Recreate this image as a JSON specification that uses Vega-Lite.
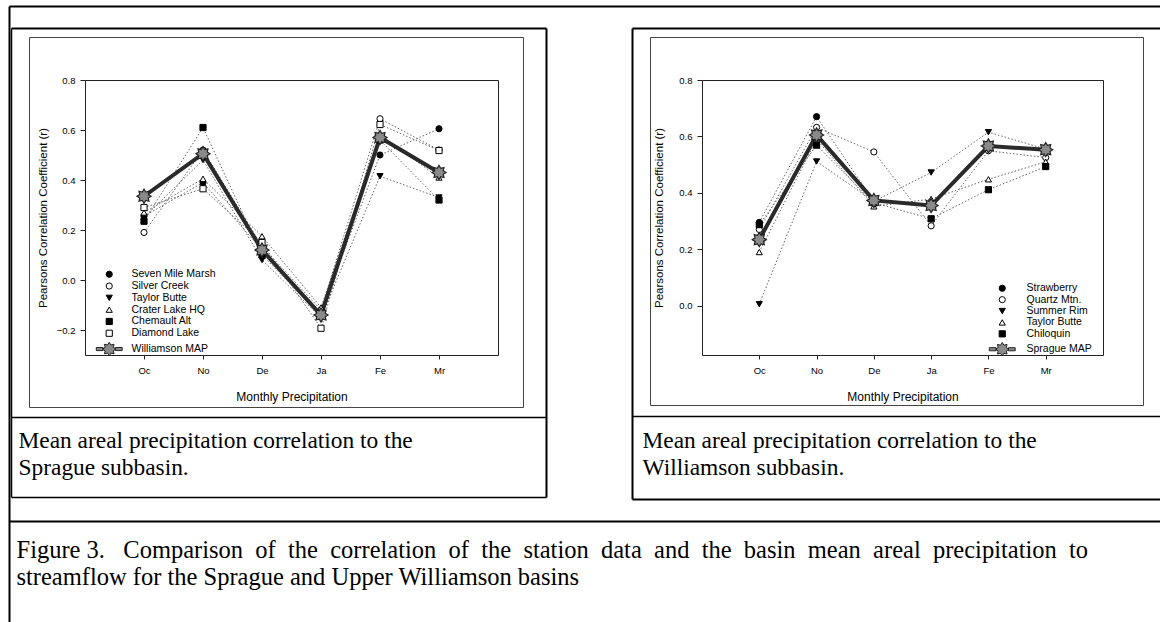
{
  "$schema": "https://vega.github.io/schema/vega-lite/v6.json",
  "width": 1160,
  "height": 622,
  "autosize": {"type": "none"},
  "padding": 0,
  "background": "white",
  "config": {"view": {"stroke": null}, "axis": {"grid": false}},
  "resolve": {
    "scale": {"x": "independent", "y": "independent", "shape": "independent", "fill": "independent", "stroke": "independent"},
    "axis": {"x": "independent", "y": "independent"},
    "legend": {"shape": "independent", "fill": "independent", "stroke": "independent"}
  },
  "layer": [
    {
      "data": {"values": [
        {"station": "Seven Mile Marsh", "month": "Oc", "r": 0.255},
        {"station": "Seven Mile Marsh", "month": "No", "r": 0.39},
        {"station": "Seven Mile Marsh", "month": "De", "r": 0.12},
        {"station": "Seven Mile Marsh", "month": "Ja", "r": -0.13},
        {"station": "Seven Mile Marsh", "month": "Fe", "r": 0.50},
        {"station": "Seven Mile Marsh", "month": "Mr", "r": 0.605},
        {"station": "Silver Creek", "month": "Oc", "r": 0.19},
        {"station": "Silver Creek", "month": "No", "r": 0.52},
        {"station": "Silver Creek", "month": "De", "r": 0.135},
        {"station": "Silver Creek", "month": "Ja", "r": -0.12},
        {"station": "Silver Creek", "month": "Fe", "r": 0.645},
        {"station": "Silver Creek", "month": "Mr", "r": 0.52},
        {"station": "Taylor Butte", "month": "Oc", "r": 0.25},
        {"station": "Taylor Butte", "month": "No", "r": 0.48},
        {"station": "Taylor Butte", "month": "De", "r": 0.08},
        {"station": "Taylor Butte", "month": "Ja", "r": -0.15},
        {"station": "Taylor Butte", "month": "Fe", "r": 0.415},
        {"station": "Taylor Butte", "month": "Mr", "r": 0.33},
        {"station": "Crater Lake HQ", "month": "Oc", "r": 0.27},
        {"station": "Crater Lake HQ", "month": "No", "r": 0.405},
        {"station": "Crater Lake HQ", "month": "De", "r": 0.175},
        {"station": "Crater Lake HQ", "month": "Ja", "r": -0.11},
        {"station": "Crater Lake HQ", "month": "Fe", "r": 0.58},
        {"station": "Crater Lake HQ", "month": "Mr", "r": 0.41},
        {"station": "Chemault Alt", "month": "Oc", "r": 0.235},
        {"station": "Chemault Alt", "month": "No", "r": 0.61},
        {"station": "Chemault Alt", "month": "De", "r": 0.10},
        {"station": "Chemault Alt", "month": "Ja", "r": -0.14},
        {"station": "Chemault Alt", "month": "Fe", "r": 0.56},
        {"station": "Chemault Alt", "month": "Mr", "r": 0.32},
        {"station": "Diamond Lake", "month": "Oc", "r": 0.29},
        {"station": "Diamond Lake", "month": "No", "r": 0.365},
        {"station": "Diamond Lake", "month": "De", "r": 0.15},
        {"station": "Diamond Lake", "month": "Ja", "r": -0.193},
        {"station": "Diamond Lake", "month": "Fe", "r": 0.622},
        {"station": "Diamond Lake", "month": "Mr", "r": 0.518},
        {"station": "Williamson MAP", "month": "Oc", "r": 0.335},
        {"station": "Williamson MAP", "month": "No", "r": 0.505},
        {"station": "Williamson MAP", "month": "De", "r": 0.12},
        {"station": "Williamson MAP", "month": "Ja", "r": -0.14},
        {"station": "Williamson MAP", "month": "Fe", "r": 0.57},
        {"station": "Williamson MAP", "month": "Mr", "r": 0.43}
      ]},
      "encoding": {
        "x": {"field": "month", "type": "ordinal",
          "scale": {"type": "point", "domain": ["Oc", "No", "De", "Ja", "Fe", "Mr"], "range": [85, 498], "padding": 1},
          "axis": {"orient": "bottom", "offset": -267, "labelAngle": 0, "title": "Monthly Precipitation", "domainColor": "#222", "tickColor": "#222", "tickSize": 4, "labelPadding": 6, "labelFont": "Liberation Sans", "labelFontSize": 9.5, "labelColor": "black", "titleFont": "Liberation Sans", "titleFontSize": 12, "titleFontWeight": "normal", "titleColor": "black", "titleY": 41, "titleBaseline": "middle"}},
        "y": {"field": "r", "type": "quantitative",
          "scale": {"domain": [-0.3, 0.8], "range": [355, 80], "nice": false, "zero": false},
          "axis": {"orient": "left", "offset": -85, "values": [-0.2, 0, 0.2, 0.4, 0.6, 0.8], "format": ".1f", "title": "Pearsons Correlation Coefficient (r)", "domainColor": "#222", "tickColor": "#222", "tickSize": 5, "labelPadding": 5, "labelFont": "Liberation Sans", "labelFontSize": 9.5, "labelColor": "black", "titleFont": "Liberation Sans", "titleFontSize": 11.5, "titleFontWeight": "normal", "titleColor": "black", "titleX": -42, "titleY": 217.5, "titleBaseline": "middle", "titleAngle": 270}}
      },
      "layer": [
        {"transform": [{"filter": "datum.station != 'Williamson MAP'"}],
         "mark": {"type": "line", "color": "#666", "strokeWidth": 1, "strokeDash": [1.5, 2]},
         "encoding": {"detail": {"field": "station"}, "order": {"value": null}}},
        {"transform": [{"filter": "datum.station == 'Williamson MAP'"}],
         "mark": {"type": "line", "color": "#2a2a2a", "strokeWidth": 4},
         "encoding": {"order": {"value": null}}},
        {"transform": [{"filter": "datum.station != 'Williamson MAP'"}],
         "mark": {"type": "point", "size": 38, "opacity": 1, "strokeWidth": 1},
         "encoding": {
           "shape": {"field": "station", "type": "nominal",
             "scale": {"domain": ["Seven Mile Marsh", "Silver Creek", "Taylor Butte", "Crater Lake HQ", "Chemault Alt", "Diamond Lake", "Williamson MAP"],
                       "range": ["circle", "circle", "triangle-down", "triangle-up", "square", "square", "M2.2,0L1.32,0.548L1.555,1.555L0.548,1.32L0,2.2L-0.548,1.32L-1.555,1.555L-1.32,0.548L-2.2,0L-1.32,-0.548L-1.555,-1.555L-0.548,-1.32L0,-2.2L0.548,-1.32L1.555,-1.555L1.32,-0.548ZM-4.2,-0.5H-2V0.5H-4.2ZM2,-0.5H4.2V0.5H2Z"]},
             "legend": {"orient": "none", "legendX": 104, "legendY": 269, "title": null, "labelFont": "Liberation Sans", "labelFontSize": 10.5, "labelColor": "black", "symbolSize": 38, "rowPadding": 0.8, "labelOffset": 17, "symbolStrokeWidth": 1}},
           "fill": {"field": "station", "type": "nominal",
             "scale": {"domain": ["Seven Mile Marsh", "Silver Creek", "Taylor Butte", "Crater Lake HQ", "Chemault Alt", "Diamond Lake", "Williamson MAP"],
                       "range": ["black", "white", "black", "white", "black", "white", "#8a8a8a"]},
             "legend": {"orient": "none", "legendX": 104, "legendY": 269, "title": null, "labelFont": "Liberation Sans", "labelFontSize": 10.5, "labelColor": "black", "symbolSize": 38, "rowPadding": 0.8, "labelOffset": 17, "symbolStrokeWidth": 1}},
           "stroke": {"field": "station", "type": "nominal",
             "scale": {"domain": ["Seven Mile Marsh", "Silver Creek", "Taylor Butte", "Crater Lake HQ", "Chemault Alt", "Diamond Lake", "Williamson MAP"],
                       "range": ["black", "black", "black", "black", "black", "black", "#222"]},
             "legend": {"orient": "none", "legendX": 104, "legendY": 269, "title": null, "labelFont": "Liberation Sans", "labelFontSize": 10.5, "labelColor": "black", "symbolSize": 38, "rowPadding": 0.8, "labelOffset": 17, "symbolStrokeWidth": 1}}
         }},
        {"transform": [{"filter": "datum.station == 'Williamson MAP'"}],
         "mark": {"type": "point", "shape": "M1,0L0.6,0.249L0.707,0.707L0.249,0.6L0,1L-0.249,0.6L-0.707,0.707L-0.6,0.249L-1,0L-0.6,-0.249L-0.707,-0.707L-0.249,-0.6L0,-1L0.249,-0.6L0.707,-0.707L0.6,-0.249Z", "size": 200, "opacity": 1, "fill": "#8a8a8a", "stroke": "#222", "strokeWidth": 1.2}}
      ]
    },
    {
      "data": {"values": [
        {"station": "Strawberry", "month": "Oc", "r": 0.295},
        {"station": "Strawberry", "month": "No", "r": 0.67},
        {"station": "Strawberry", "month": "De", "r": 0.37},
        {"station": "Strawberry", "month": "Ja", "r": 0.35},
        {"station": "Strawberry", "month": "Fe", "r": 0.565},
        {"station": "Strawberry", "month": "Mr", "r": 0.555},
        {"station": "Quartz Mtn.", "month": "Oc", "r": 0.27},
        {"station": "Quartz Mtn.", "month": "No", "r": 0.632},
        {"station": "Quartz Mtn.", "month": "De", "r": 0.545},
        {"station": "Quartz Mtn.", "month": "Ja", "r": 0.283},
        {"station": "Quartz Mtn.", "month": "Fe", "r": 0.549},
        {"station": "Quartz Mtn.", "month": "Mr", "r": 0.525},
        {"station": "Summer Rim", "month": "Oc", "r": 0.005},
        {"station": "Summer Rim", "month": "No", "r": 0.511},
        {"station": "Summer Rim", "month": "De", "r": 0.37},
        {"station": "Summer Rim", "month": "Ja", "r": 0.472},
        {"station": "Summer Rim", "month": "Fe", "r": 0.615},
        {"station": "Summer Rim", "month": "Mr", "r": 0.555},
        {"station": "Taylor Butte", "month": "Oc", "r": 0.19},
        {"station": "Taylor Butte", "month": "No", "r": 0.59},
        {"station": "Taylor Butte", "month": "De", "r": 0.352},
        {"station": "Taylor Butte", "month": "Ja", "r": 0.378},
        {"station": "Taylor Butte", "month": "Fe", "r": 0.448},
        {"station": "Taylor Butte", "month": "Mr", "r": 0.51},
        {"station": "Chiloquin", "month": "Oc", "r": 0.287},
        {"station": "Chiloquin", "month": "No", "r": 0.569},
        {"station": "Chiloquin", "month": "De", "r": 0.365},
        {"station": "Chiloquin", "month": "Ja", "r": 0.308},
        {"station": "Chiloquin", "month": "Fe", "r": 0.411},
        {"station": "Chiloquin", "month": "Mr", "r": 0.493},
        {"station": "Sprague MAP", "month": "Oc", "r": 0.234},
        {"station": "Sprague MAP", "month": "No", "r": 0.605},
        {"station": "Sprague MAP", "month": "De", "r": 0.373},
        {"station": "Sprague MAP", "month": "Ja", "r": 0.355},
        {"station": "Sprague MAP", "month": "Fe", "r": 0.566},
        {"station": "Sprague MAP", "month": "Mr", "r": 0.553}
      ]},
      "encoding": {
        "x": {"field": "month", "type": "ordinal",
          "scale": {"type": "point", "domain": ["Oc", "No", "De", "Ja", "Fe", "Mr"], "range": [702, 1103], "padding": 1},
          "axis": {"orient": "bottom", "offset": -267, "labelAngle": 0, "title": "Monthly Precipitation", "domainColor": "#222", "tickColor": "#222", "tickSize": 4, "labelPadding": 6, "labelFont": "Liberation Sans", "labelFontSize": 9.5, "labelColor": "black", "titleFont": "Liberation Sans", "titleFontSize": 12, "titleFontWeight": "normal", "titleColor": "black", "titleY": 41, "titleBaseline": "middle"}},
        "y": {"field": "r", "type": "quantitative",
          "scale": {"domain": [-0.175, 0.8], "range": [355, 80], "nice": false, "zero": false},
          "axis": {"orient": "left", "offset": -702, "values": [0, 0.2, 0.4, 0.6, 0.8], "format": ".1f", "title": "Pearsons Correlation Coefficient (r)", "domainColor": "#222", "tickColor": "#222", "tickSize": 5, "labelPadding": 5, "labelFont": "Liberation Sans", "labelFontSize": 9.5, "labelColor": "black", "titleFont": "Liberation Sans", "titleFontSize": 11.5, "titleFontWeight": "normal", "titleColor": "black", "titleX": -43, "titleY": 217.5, "titleBaseline": "middle", "titleAngle": 270}}
      },
      "layer": [
        {"transform": [{"filter": "datum.station != 'Sprague MAP'"}],
         "mark": {"type": "line", "color": "#666", "strokeWidth": 1, "strokeDash": [1.5, 2]},
         "encoding": {"detail": {"field": "station"}, "order": {"value": null}}},
        {"transform": [{"filter": "datum.station == 'Sprague MAP'"}],
         "mark": {"type": "line", "color": "#2a2a2a", "strokeWidth": 4},
         "encoding": {"order": {"value": null}}},
        {"transform": [{"filter": "datum.station != 'Sprague MAP'"}],
         "mark": {"type": "point", "size": 38, "opacity": 1, "strokeWidth": 1},
         "encoding": {
           "shape": {"field": "station", "type": "nominal",
             "scale": {"domain": ["Strawberry", "Quartz Mtn.", "Summer Rim", "Taylor Butte", "Chiloquin", "Sprague MAP"],
                       "range": ["circle", "circle", "triangle-down", "triangle-up", "square", "M2.2,0L1.32,0.548L1.555,1.555L0.548,1.32L0,2.2L-0.548,1.32L-1.555,1.555L-1.32,0.548L-2.2,0L-1.32,-0.548L-1.555,-1.555L-0.548,-1.32L0,-2.2L0.548,-1.32L1.555,-1.555L1.32,-0.548ZM-4.2,-0.5H-2V0.5H-4.2ZM2,-0.5H4.2V0.5H2Z"]},
             "legend": {"orient": "none", "legendX": 997, "legendY": 283, "title": null, "labelFont": "Liberation Sans", "labelFontSize": 10.5, "labelColor": "black", "symbolSize": 38, "rowPadding": 0.4, "labelOffset": 19, "symbolStrokeWidth": 1}},
           "fill": {"field": "station", "type": "nominal",
             "scale": {"domain": ["Strawberry", "Quartz Mtn.", "Summer Rim", "Taylor Butte", "Chiloquin", "Sprague MAP"],
                       "range": ["black", "white", "black", "white", "black", "#8a8a8a"]},
             "legend": {"orient": "none", "legendX": 997, "legendY": 283, "title": null, "labelFont": "Liberation Sans", "labelFontSize": 10.5, "labelColor": "black", "symbolSize": 38, "rowPadding": 0.4, "labelOffset": 19, "symbolStrokeWidth": 1}},
           "stroke": {"field": "station", "type": "nominal",
             "scale": {"domain": ["Strawberry", "Quartz Mtn.", "Summer Rim", "Taylor Butte", "Chiloquin", "Sprague MAP"],
                       "range": ["black", "black", "black", "black", "black", "#222"]},
             "legend": {"orient": "none", "legendX": 997, "legendY": 283, "title": null, "labelFont": "Liberation Sans", "labelFontSize": 10.5, "labelColor": "black", "symbolSize": 38, "rowPadding": 0.4, "labelOffset": 19, "symbolStrokeWidth": 1}}
         }},
        {"transform": [{"filter": "datum.station == 'Sprague MAP'"}],
         "mark": {"type": "point", "shape": "M1,0L0.6,0.249L0.707,0.707L0.249,0.6L0,1L-0.249,0.6L-0.707,0.707L-0.6,0.249L-1,0L-0.6,-0.249L-0.707,-0.707L-0.249,-0.6L0,-1L0.249,-0.6L0.707,-0.707L0.6,-0.249Z", "size": 200, "opacity": 1, "fill": "#8a8a8a", "stroke": "#222", "strokeWidth": 1.2}}
      ]
    },
    {"data": {"values": []}, "mark": {"type": "point", "opacity": 0}, "encoding": {
      "x": {"field": "a", "type": "quantitative", "scale": {"domain": [0, 1], "range": [9, 1160]}, "axis": {"orient": "top", "offset": -6, "domainColor": "black", "domainWidth": 2, "ticks": false, "labels": false, "grid": false, "title": null}},
      "y": {"field": "b", "type": "quantitative", "scale": {"domain": [0, 1], "range": [622, 6]}, "axis": {"orient": "left", "offset": -9, "domainColor": "black", "domainWidth": 2, "ticks": false, "labels": false, "grid": false, "title": null}}}},
    {"data": {"values": []}, "mark": {"type": "point", "opacity": 0}, "encoding": {
      "x": {"field": "a", "type": "quantitative", "scale": {"domain": [0, 1], "range": [11, 546]}, "axis": {"orient": "top", "offset": -28, "domainColor": "black", "domainWidth": 2, "ticks": false, "labels": false, "grid": false, "title": null}},
      "y": {"field": "b", "type": "quantitative", "scale": {"domain": [0, 1], "range": [497, 28]}, "axis": {"orient": "left", "offset": -11, "domainColor": "black", "domainWidth": 1.5, "ticks": false, "labels": false, "grid": false, "title": null}}}},
    {"data": {"values": []}, "mark": {"type": "point", "opacity": 0}, "encoding": {
      "x": {"field": "a", "type": "quantitative", "scale": {"domain": [0, 1], "range": [11, 546]}, "axis": {"orient": "bottom", "offset": -125, "domainColor": "black", "domainWidth": 1.5, "ticks": false, "labels": false, "grid": false, "title": null}},
      "y": {"field": "b", "type": "quantitative", "scale": {"domain": [0, 1], "range": [497, 28]}, "axis": {"orient": "right", "offset": -614, "domainColor": "black", "domainWidth": 2, "ticks": false, "labels": false, "grid": false, "title": null}}}},
    {"data": {"values": []}, "mark": {"type": "point", "opacity": 0}, "encoding": {
      "x": {"field": "a", "type": "quantitative", "scale": {"domain": [0, 1], "range": [632, 1160]}, "axis": {"orient": "top", "offset": -28, "domainColor": "black", "domainWidth": 2, "ticks": false, "labels": false, "grid": false, "title": null}},
      "y": {"field": "b", "type": "quantitative", "scale": {"domain": [0, 1], "range": [499, 28]}, "axis": {"orient": "left", "offset": -632, "domainColor": "black", "domainWidth": 2, "ticks": false, "labels": false, "grid": false, "title": null}}}},
    {"data": {"values": []}, "mark": {"type": "point", "opacity": 0}, "encoding": {
      "x": {"field": "a", "type": "quantitative", "scale": {"domain": [0, 1], "range": [632, 1160]}, "axis": {"orient": "bottom", "offset": -123, "domainColor": "black", "domainWidth": 2, "ticks": false, "labels": false, "grid": false, "title": null}},
      "y": {"field": "b", "type": "quantitative", "scale": {"domain": [0, 1], "range": [407, 37]}, "axis": {"orient": "left", "offset": -29, "domainColor": "#444", "domainWidth": 1, "ticks": false, "labels": false, "grid": false, "title": null}}}},
    {"data": {"values": []}, "mark": {"type": "point", "opacity": 0}, "encoding": {
      "x": {"field": "a", "type": "quantitative", "scale": {"domain": [0, 1], "range": [29, 523]}, "axis": {"orient": "top", "offset": -37, "domainColor": "#444", "domainWidth": 1, "ticks": false, "labels": false, "grid": false, "title": null}},
      "y": {"field": "b", "type": "quantitative", "scale": {"domain": [0, 1], "range": [407, 37]}, "axis": {"orient": "right", "offset": -637, "domainColor": "#444", "domainWidth": 1, "ticks": false, "labels": false, "grid": false, "title": null}}}},
    {"data": {"values": []}, "mark": {"type": "point", "opacity": 0}, "encoding": {
      "x": {"field": "a", "type": "quantitative", "scale": {"domain": [0, 1], "range": [29, 523]}, "axis": {"orient": "bottom", "offset": -215, "domainColor": "#444", "domainWidth": 1, "ticks": false, "labels": false, "grid": false, "title": null}},
      "y": {"field": "b", "type": "quantitative", "scale": {"domain": [0, 1], "range": [405, 37]}, "axis": {"orient": "left", "offset": -650, "domainColor": "#444", "domainWidth": 1, "ticks": false, "labels": false, "grid": false, "title": null}}}},
    {"data": {"values": []}, "mark": {"type": "point", "opacity": 0}, "encoding": {
      "x": {"field": "a", "type": "quantitative", "scale": {"domain": [0, 1], "range": [650, 1143]}, "axis": {"orient": "top", "offset": -37, "domainColor": "#444", "domainWidth": 1, "ticks": false, "labels": false, "grid": false, "title": null}},
      "y": {"field": "b", "type": "quantitative", "scale": {"domain": [0, 1], "range": [405, 37]}, "axis": {"orient": "right", "offset": -17, "domainColor": "#444", "domainWidth": 1, "ticks": false, "labels": false, "grid": false, "title": null}}}},
    {"data": {"values": []}, "mark": {"type": "point", "opacity": 0}, "encoding": {
      "x": {"field": "a", "type": "quantitative", "scale": {"domain": [0, 1], "range": [650, 1143]}, "axis": {"orient": "bottom", "offset": -217, "domainColor": "#444", "domainWidth": 1, "ticks": false, "labels": false, "grid": false, "title": null}},
      "y": {"field": "b", "type": "quantitative", "scale": {"domain": [0, 1], "range": [355, 80]}, "axis": {"orient": "right", "offset": -662, "domainColor": "#222", "domainWidth": 1, "ticks": false, "labels": false, "grid": false, "title": null}}}},
    {"data": {"values": []}, "mark": {"type": "point", "opacity": 0}, "encoding": {
      "x": {"field": "a", "type": "quantitative", "scale": {"domain": [0, 1], "range": [85, 498]}, "axis": {"orient": "top", "offset": -80, "domainColor": "#222", "domainWidth": 1, "ticks": false, "labels": false, "grid": false, "title": null}},
      "y": {"field": "b", "type": "quantitative", "scale": {"domain": [0, 1], "range": [355, 80]}, "axis": {"orient": "right", "offset": -57, "domainColor": "#222", "domainWidth": 1, "ticks": false, "labels": false, "grid": false, "title": null}}}},
    {"data": {"values": []}, "mark": {"type": "point", "opacity": 0}, "encoding": {
      "x": {"field": "a", "type": "quantitative", "scale": {"domain": [0, 1], "range": [702, 1103]}, "axis": {"orient": "top", "offset": -80, "domainColor": "#222", "domainWidth": 1, "ticks": false, "labels": false, "grid": false, "title": null}}}},
    {"data": {"values": []}, "mark": {"type": "point", "opacity": 0}, "encoding": {
      "x": {"field": "a", "type": "quantitative", "scale": {"domain": [0, 1], "range": [11, 546]}, "axis": {"orient": "bottom", "offset": -205, "domainColor": "black", "domainWidth": 1.5, "ticks": false, "labels": false, "grid": false,
        "title": ["Mean areal precipitation correlation to the", "Sprague subbasin."], "titleX": 18, "titleY": 12, "titleAlign": "left", "titleBaseline": "top", "titleAngle": 0, "titleFont": "Liberation Serif", "titleFontSize": 23.4, "titleFontWeight": "normal", "titleColor": "black", "titleLineHeight": 27}}}},
    {"data": {"values": []}, "mark": {"type": "point", "opacity": 0}, "encoding": {
      "x": {"field": "a", "type": "quantitative", "scale": {"domain": [0, 1], "range": [632, 1160]}, "axis": {"orient": "bottom", "offset": -206, "domainColor": "black", "domainWidth": 1.5, "ticks": false, "labels": false, "grid": false,
        "title": ["Mean areal precipitation correlation to the", "Williamson subbasin."], "titleX": 642, "titleY": 13, "titleAlign": "left", "titleBaseline": "top", "titleAngle": 0, "titleFont": "Liberation Serif", "titleFontSize": 23.4, "titleFontWeight": "normal", "titleColor": "black", "titleLineHeight": 27}}}},
    {"data": {"values": []}, "mark": {"type": "point", "opacity": 0}, "encoding": {
      "x": {"field": "a", "type": "quantitative", "scale": {"domain": [0, 1], "range": [9, 1160]}, "axis": {"orient": "bottom", "offset": -101, "domainColor": "black", "domainWidth": 2, "ticks": false, "labels": false, "grid": false,
        "title": ["Figure 3.\u00a0 \u00a0Comparison \u00a0of \u00a0the \u00a0correlation \u00a0of \u00a0the \u00a0station \u00a0data \u00a0and \u00a0the \u00a0basin \u00a0mean \u00a0areal \u00a0precipitation \u00a0to", "streamflow for the Sprague and Upper Williamson basins"], "titleX": 16, "titleY": 17, "titleAlign": "left", "titleBaseline": "top", "titleAngle": 0, "titleFont": "Liberation Serif", "titleFontSize": 24.5, "titleFontWeight": "normal", "titleColor": "black", "titleLineHeight": 27}}}}
  ]
}
